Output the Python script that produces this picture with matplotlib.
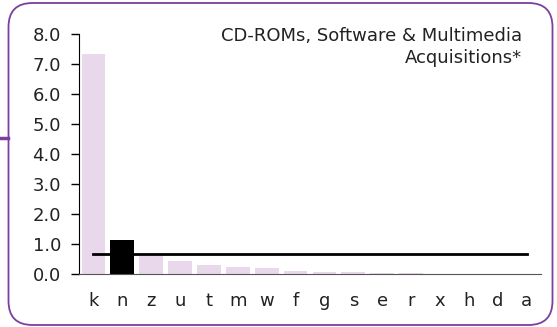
import matplotlib.pyplot as plt
from matplotlib.patches import FancyBboxPatch
import numpy as np

# Data
categories = ['k', 'n', 'z', 'u', 't', 'm', 'w', 'f', 'g', 's', 'e', 'r', 'x', 'h', 'd', 'a']
values = [7.33, 1.13, 0.61, 0.45, 0.31, 0.24, 0.21, 0.11, 0.06, 0.06, 0.03, 0.02, 0.0, 0.0, 0.0, 0.0]
highlight = 'n'
average = 0.66
title = 'CD-ROMs, Software & Multimedia\nAcquisitions*'

W, H = 557, 327
fig = plt.figure(figsize=(W / 100, H / 100), dpi=100)

# rounded purple frame (pixel coordinates)
frame = FancyBboxPatch((8.5, 2), 544, 322, boxstyle='round,pad=0,rounding_size=24',
                       transform=None, facecolor='none',
                       edgecolor='#7B3F9E', linewidth=1.3, zorder=0)
fig.patches.append(frame)
fig.add_artist(plt.Line2D([0, 8 / W], [1 - 138 / H, 1 - 138 / H], transform=fig.transFigure,
                          color='#7B3F9E', linewidth=2.5))

ax = fig.add_axes([79 / W, 1 - 274 / H, 462 / W, 240 / H])
ax.set_facecolor('none')
x = np.arange(len(categories))
colors = ['black' if c == highlight else '#E9D8EB' for c in categories]
ax.bar(x, values, width=0.82, color=colors, zorder=2)
ax.plot([x[0], x[-1]], [average, average], color='black', linewidth=2, zorder=3)

ax.set_xlim(-0.5, len(categories) - 0.5)
ax.set_ylim(0, 8)
ax.set_yticks(np.arange(0, 9, 1))
ax.set_yticklabels([f'{v:.1f}' for v in range(9)], fontsize=13, color='#222222')
ax.set_xticks(x)
ax.set_xticklabels(categories, fontsize=13, color='#222222')
ax.tick_params(axis='x', length=0, pad=13)
ax.tick_params(axis='y', length=6, width=1, direction='out', pad=7)

for side in ['top', 'right']:
    ax.spines[side].set_visible(False)
ax.spines['left'].set_color('black')
ax.spines['bottom'].set_color('#555555')
ax.spines['bottom'].set_linewidth(0.8)

fig.text(522 / W, 1 - 27 / H, title, ha='right', va='top', fontsize=13,
         color='#222222', linespacing=1.3)

fig.savefig('out.png', dpi=100)
